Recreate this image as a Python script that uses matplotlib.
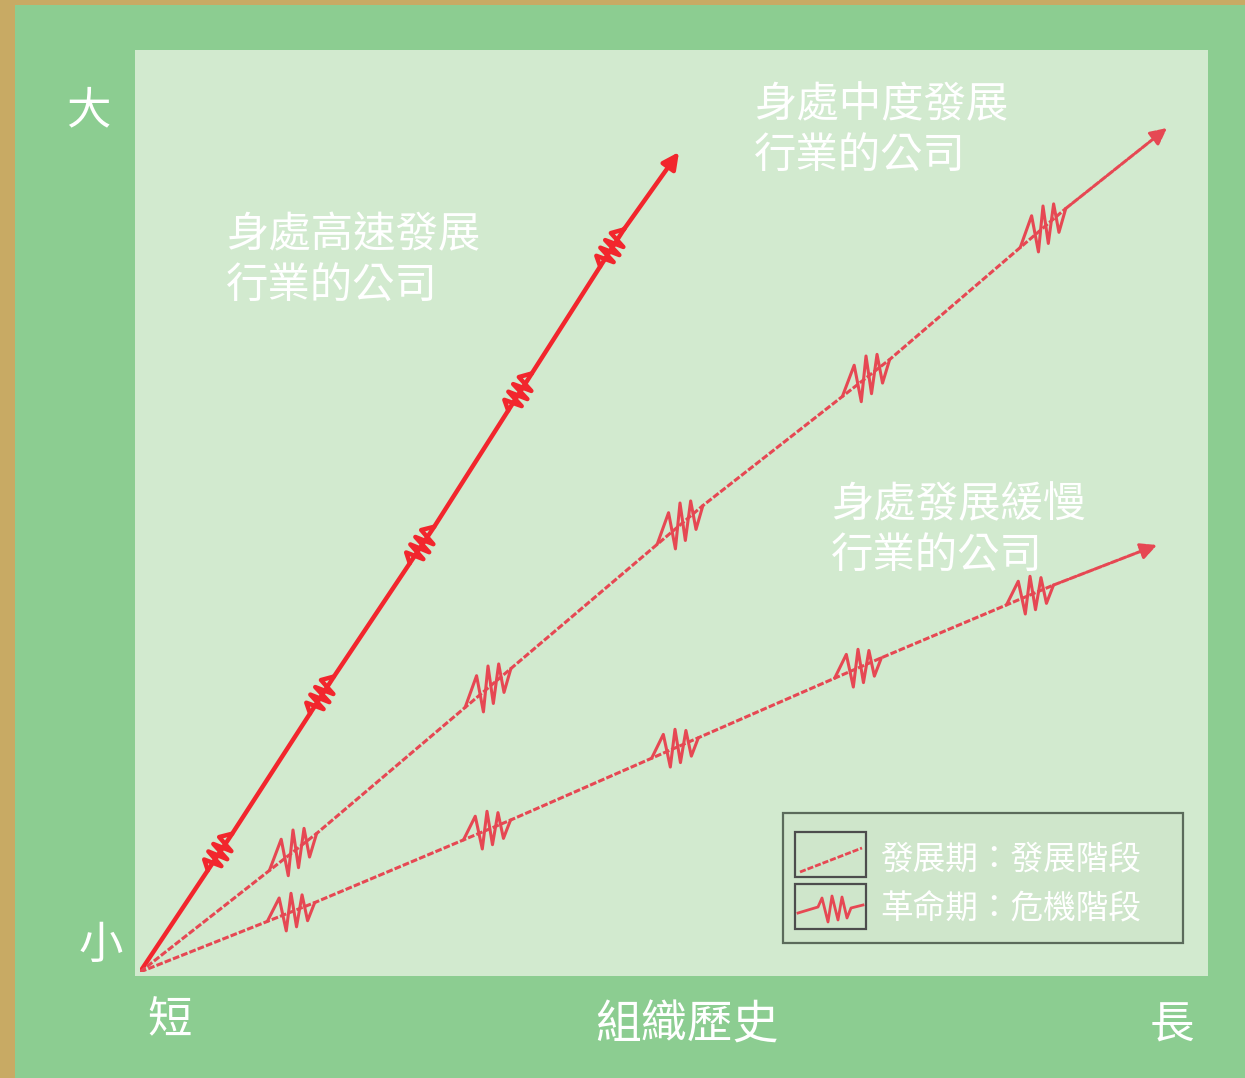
import numpy as np
import matplotlib.pyplot as plt
from matplotlib.patches import Rectangle

plt.rcParams['font.family'] = ['Noto Sans CJK TC', 'DejaVu Sans']

W, H = 1245, 1078
OX, OY = 140, 972  # chart origin in pixels

# chart values (time, size) in chart units, origin = "短 / 小"
fast_end = (539, 820)
fast_crises = [(80, 120), (182, 277), (282, 427), (380, 580), (472, 724)]
mid_end = (1027, 844)
mid_crises = [(153, 120), (348, 284), (540, 447), (726, 594), (903, 744)]
slow_end = (1017, 427)
slow_crises = [(151, 60), (347, 142), (535, 224), (718, 304), (890, 377)]

line_labels = [("身處高速發展", "行業的公司"), ("身處中度發展", "行業的公司"), ("身處發展緩慢", "行業的公司")]
legend_labels = ["發展期：發展階段", "革命期：危機階段"]

GREEN = "#8ccd91"
PANEL = "#d2eacf"
TAN = "#c8aa64"
RED = "#f2262d"
RED2 = "#e64853"

# zigzag shapes: position along the line, offset across it
WIDE_T = [-30, -15, -6, 0, 7, 14, 21, 30]
WIDE_OFFS = [0, 22, -20, 22, -20, 15, -18, 0]
TIGHT_T = [-22, -15, -11, -6, -2, 3, 7, 12, 22]
TIGHT_OFFS = [0, 9, -9, 10, -10, 10, -9, 9, 0]


def build(crises, end, ts, offs, scale, vertical):
    end = np.asarray(end, float)
    pts = [np.zeros(2)]
    zigs = []
    for c in crises:
        c = np.asarray(c, float)
        d = (c - pts[-1]) / np.hypot(*(c - pts[-1]))
        perp = np.array([0.0, 1.0]) if vertical else np.array([-d[1], d[0]])
        z = c + (np.asarray(ts)[:, None] * d + np.asarray(offs)[:, None] * perp) * scale
        zigs.append(z)
        pts.append(z[0])
        pts.append(z[-1])
    pts.append(end)
    return np.array(pts), zigs


fig = plt.figure(figsize=(W / 100, H / 100), dpi=100)
fig.patch.set_facecolor(GREEN)

bg = fig.add_axes([0, 0, 1, 1])
bg.set_xlim(0, W)
bg.set_ylim(H, 0)
bg.axis("off")
bg.add_patch(Rectangle((0, 0), 15, H, color=TAN, lw=0))
bg.add_patch(Rectangle((0, 0), W, 5, color=TAN, lw=0))
bg.add_patch(Rectangle((135, 50), 1208 - 135, 976 - 50, color=PANEL, lw=0))

txt = dict(color="white", fontweight="light")
bg.text(88, 110, "大", fontsize=32, ha="center", va="center", **txt)
bg.text(101, 945, "小", fontsize=32, ha="center", va="center", **txt)
bg.text(170, 1020, "短", fontsize=32, ha="center", va="center", **txt)
bg.text(687, 1025, "組織歷史", fontsize=33, ha="center", va="center", **txt)
bg.text(1172, 1025, "長", fontsize=32, ha="center", va="center", **txt)

for (l1, l2), (x, y) in zip(line_labels, [(226, 235), (754, 105), (831, 505)]):
    bg.text(x, y, l1, fontsize=30.5, ha="left", va="center", **txt)
    bg.text(x, y + 52, l2, fontsize=30.5, ha="left", va="center", **txt)

# legend
bg.add_patch(Rectangle((783, 813), 400, 130, facecolor="#cfe6cb", edgecolor="#5b6b5b", lw=1.6))
bg.add_patch(Rectangle((795, 832), 71, 45, facecolor="none", edgecolor="#4d4d4d", lw=1.6))
bg.add_patch(Rectangle((795, 884), 71, 45, facecolor="none", edgecolor="#4d4d4d", lw=1.6))
bg.plot([800, 862], [872, 848], color=RED2, lw=2, ls=(0, (2.2, 0.7)))
lz = np.array([[798, 913], [818, 907], [822, 898], [828, 922], [832, 896], [838, 920], [842, 897], [847, 918], [851, 908], [863, 905]])
bg.plot(lz[:, 0], lz[:, 1], color=RED2, lw=2)
for lab, y in zip(legend_labels, [860, 908]):
    bg.text(880, y, lab, fontsize=23.5, ha="left", va="center", **txt)

ax = fig.add_axes([OX / W, (H - OY) / H, (W - OX) / W, OY / H])
ax.set_xlim(0, W - OX)
ax.set_ylim(0, OY)
ax.axis("off")
ax.patch.set_alpha(0)

series = [
    (fast_crises, fast_end, TIGHT_T, TIGHT_OFFS, 1.0, False, RED, 3.2, "-"),
    (mid_crises, mid_end, WIDE_T, WIDE_OFFS, 1.0, True, RED2, 2.2, (0, (2.2, 0.7))),
    (slow_crises, slow_end, WIDE_T, WIDE_OFFS, 0.85, True, RED2, 2.2, (0, (2.2, 0.7))),
]
for crises, end, ts, offs, sc, vertical, col, lw, ls in series:
    p, zigs = build(crises, end, ts, offs, sc, vertical)
    ax.plot(p[:-1, 0], p[:-1, 1], color=col, lw=lw, ls=ls)
    for z in zigs:
        ax.plot(z[:, 0], z[:, 1], color=col, lw=lw, solid_joinstyle="round",
                solid_capstyle="round")
    ax.annotate("", xy=p[-1], xytext=p[-2],
                arrowprops=dict(arrowstyle="-|>,head_length=0.7,head_width=0.35",
                                color=col, lw=lw, ls=ls, mutation_scale=14,
                                shrinkA=0, shrinkB=0))

fig.savefig("out.png", dpi=100, facecolor=GREEN)
